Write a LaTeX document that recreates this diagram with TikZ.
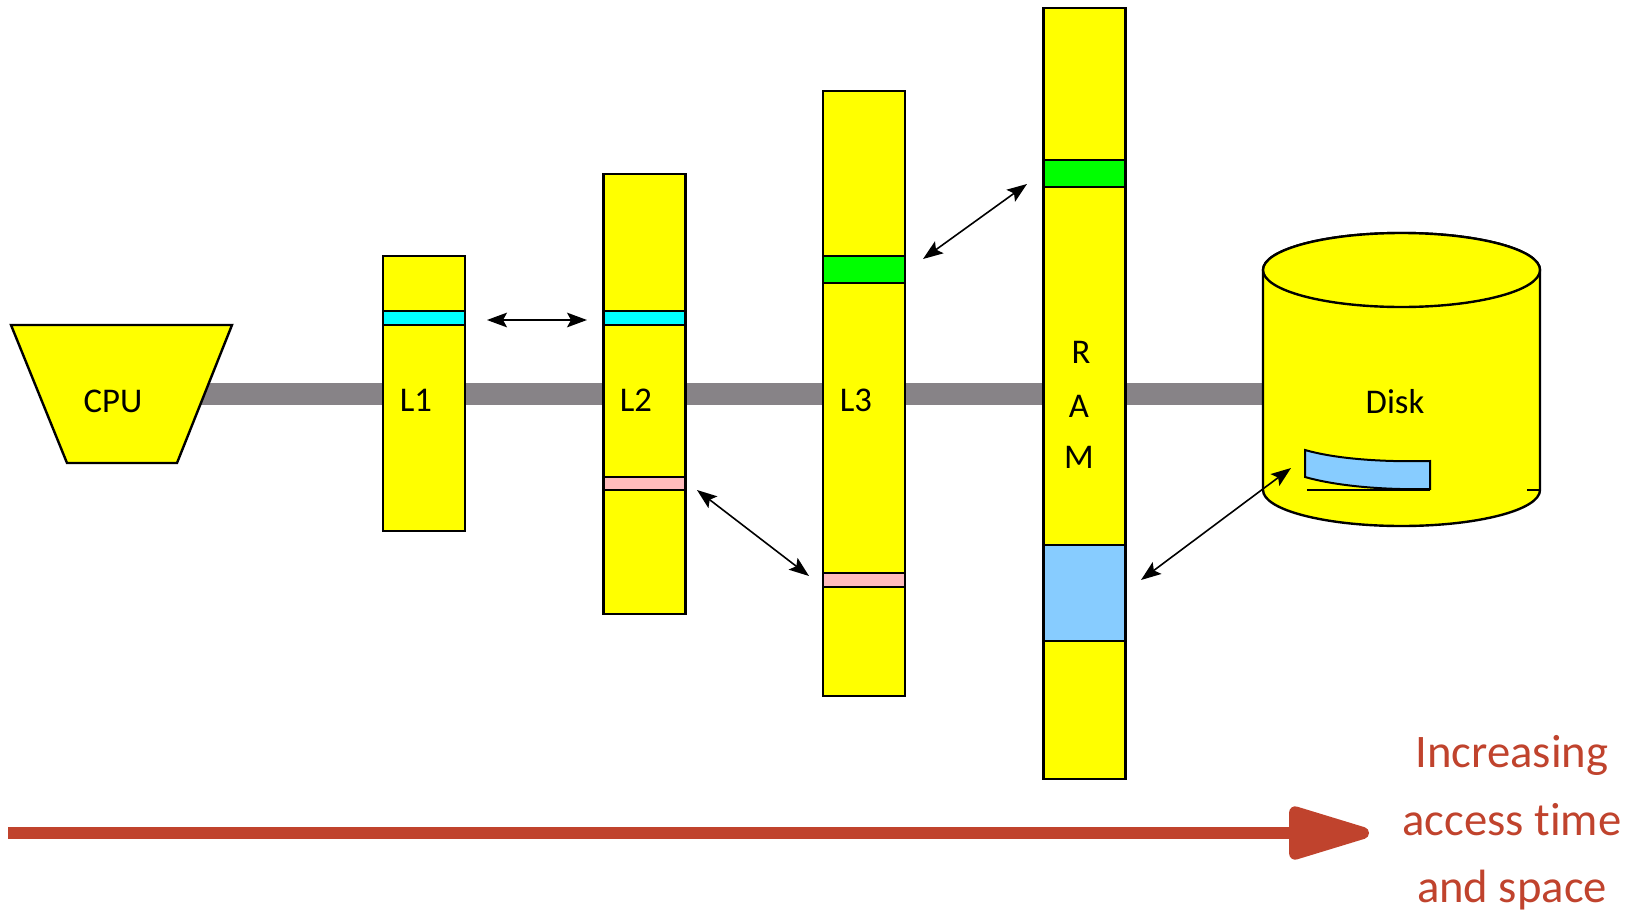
\documentclass[tikz,border=0pt]{standalone}
\usepackage{fontspec}
\setmainfont{Carlito}[Ligatures=NoCommon]
\usetikzlibrary{arrows.meta}
\definecolor{cyel}{RGB}{255,255,0}
\definecolor{ccyan}{RGB}{0,255,255}
\definecolor{cgreen}{RGB}{0,255,0}
\definecolor{cpink}{RGB}{255,187,187}
\definecolor{cblue}{RGB}{135,204,255}
\definecolor{cbus}{RGB}{135,131,135}
\definecolor{cred}{RGB}{192,67,45}
\tikzset{
  membox/.style={draw=black, line width=1.8pt, fill=cyel, minimum width=61.5pt, inner sep=0pt},
  band/.style={draw=black, line width=1.8pt, minimum width=61.5pt, inner sep=0pt},
  lbl/.style={font=\fontsize{26}{30}\selectfont, inner sep=0pt},
  link/.style={{Stealth[length=15pt,width=11pt,inset=3pt]}-{Stealth[length=15pt,width=11pt,inset=3pt]}, line width=1.2pt},
  bus/.style={line width=16.5pt, draw=cbus},
  trend/.style={line width=9pt, draw=cred, -{Triangle[length=72pt,width=40.5pt,round]}},
  redtxt/.style={text=cred, font=\fontsize{35}{50.5}\selectfont, align=center, inner sep=0pt}
}
\begin{document}
\begin{tikzpicture}[x=0.75pt,y=-0.75pt]
\useasboundingbox (0,0) rectangle (1639,914);
% bus
\coordinate (busL) at (195,394);
\coordinate (busR) at (1270,394);
\draw[bus] (busL) -- (busR);
% CPU
\draw[line width=1.8pt, fill=cyel, line join=miter] (11,325) -- (232,325) -- (177,463) -- (67,463) -- cycle;
\node[lbl] (cpu) at (113,401) {CPU};
% L1
\node[membox, minimum height=206.25pt] (l1box) at (424,393.5) {};
\node[band, fill=ccyan, minimum height=10.5pt] (l1c) at (424,318) {};
\node[lbl] (l1) at (416,400) {L1};
% L2
\node[membox, minimum height=330pt] (l2box) at (644.5,394) {};
\node[band, fill=ccyan, minimum height=10.5pt] (l2c) at (644.5,318) {};
\node[band, fill=cpink, minimum height=9.75pt] (l2p) at (644.5,483.5) {};
\node[lbl] (l2) at (636,400) {L2};
% L3
\node[membox, minimum height=453.75pt] (l3box) at (864,393.5) {};
\node[band, fill=cgreen, minimum height=20.25pt] (l3g) at (864,269.5) {};
\node[band, fill=cpink, minimum height=10.5pt] (l3p) at (864,580) {};
\node[lbl] (l3) at (856,400) {L3};
% RAM
\node[membox, minimum height=578.25pt] (rambox) at (1084.5,393.5) {};
\node[band, fill=cgreen, minimum height=20.25pt] (ramg) at (1084.5,173.5) {};
\node[band, fill=cblue, minimum height=72pt] (ramb) at (1084.5,593) {};
\node[lbl] (ramR) at (1081,352) {R};
\node[lbl] (ramA) at (1079,406) {A};
\node[lbl] (ramM) at (1079,457) {M};
% Disk
\path[fill=cyel, draw=black, line width=1.8pt] (1263,270) -- (1263,490)
  arc[start angle=180, end angle=360, x radius=103.875pt, y radius=27pt]
  -- (1540,270) arc[start angle=0, end angle=180, x radius=103.875pt, y radius=27.75pt] -- cycle;
\draw[fill=cyel, line width=1.8pt] (1401.5,270) ellipse [x radius=103.875pt, y radius=27.75pt];
\draw[fill=cblue, line width=1.5pt] (1305,450) .. controls (1340,460) and (1390,462) .. (1430,461)
  -- (1430,489) .. controls (1390,490) and (1340,487) .. (1305,477) -- cycle;
\draw[line width=0.8pt] (1307,490) -- (1430,490);
\draw[line width=0.8pt] (1527,490) -- (1540,490);
\node[lbl] (disk) at (1395,402) {Disk};
% transfer arrows
\coordinate (a1s) at (487,320);
\coordinate (a1e) at (587,320);
\coordinate (a2s) at (697,490);
\coordinate (a2e) at (809,576);
\coordinate (a3s) at (923,259);
\coordinate (a3e) at (1027,184);
\coordinate (a4s) at (1141,580);
\coordinate (a4e) at (1291,468);
\draw[link] (a1s) -- (a1e);
\draw[link] (a2s) -- (a2e);
\draw[link] (a3s) -- (a3e);
\draw[link] (a4s) -- (a4e);
% trend arrow
\coordinate (tS) at (8,833);
\coordinate (tE) at (1369,833);
\draw[trend] (tS) -- (tE);
\node[redtxt] (note) at (1512,823) {Increasing\\access t\kern0pt ime\\and space};
\end{tikzpicture}
\end{document}
